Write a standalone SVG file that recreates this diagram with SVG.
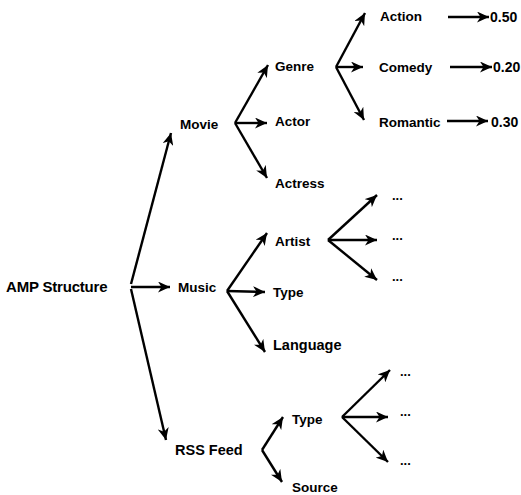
<svg xmlns="http://www.w3.org/2000/svg" width="521" height="495" viewBox="0 0 521 495">
<defs>
<marker id="ah" markerUnits="userSpaceOnUse" markerWidth="13" markerHeight="11" refX="12" refY="5.5" orient="auto">
<path d="M0,0 L12,5.5 L0,11 L3.5,5.5 Z" fill="#000"/>
</marker>
<style>
text{font-family:"Liberation Sans",Arial,sans-serif;font-weight:bold;font-size:13.5px;fill:#000}
.big{font-size:15px;letter-spacing:-0.2px}
.mid{font-size:14.5px}
.val{font-size:14px}
.dots{font-size:13px}
#connectors line{stroke:#000;stroke-width:2.4;fill:none;marker-end:url(#ah)}
</style>
</defs>
<rect width="521" height="495" fill="#fff"/>
<g id="connectors">
<line x1="131" y1="284" x2="171" y2="133"/>
<line x1="131" y1="287" x2="170" y2="287"/>
<line x1="131" y1="289" x2="166" y2="440"/>
<line x1="235" y1="123" x2="268" y2="65"/>
<line x1="235" y1="123" x2="267" y2="123"/>
<line x1="235" y1="123" x2="267" y2="178"/>
<line x1="336" y1="67" x2="365" y2="13"/>
<line x1="336" y1="67" x2="363" y2="67"/>
<line x1="336" y1="67" x2="364" y2="120"/>
<line x1="448" y1="17" x2="489" y2="17"/>
<line x1="450" y1="67" x2="492" y2="67"/>
<line x1="447" y1="121" x2="488" y2="121"/>
<line x1="227" y1="291" x2="267" y2="233"/>
<line x1="227" y1="291" x2="265" y2="292"/>
<line x1="227" y1="291" x2="265" y2="352"/>
<line x1="328" y1="240" x2="377" y2="195"/>
<line x1="328" y1="240" x2="377" y2="240"/>
<line x1="328" y1="240" x2="377" y2="280"/>
<line x1="262" y1="450" x2="283" y2="417"/>
<line x1="262" y1="450" x2="282" y2="482"/>
<line x1="342" y1="417" x2="390" y2="370"/>
<line x1="342" y1="417" x2="388" y2="417"/>
<line x1="342" y1="417" x2="388" y2="462"/>
</g>
<g id="amp"><text class="big" x="6" y="292">AMP Structure</text></g>
<g id="movie"><text x="180" y="129">Movie</text></g>
<g id="music"><text x="178" y="292">Music</text></g>
<g id="rss"><text class="mid" x="175" y="455">RSS Feed</text></g>
<g id="genre"><text x="275" y="71">Genre</text></g>
<g id="actor"><text x="275" y="126">Actor</text></g>
<g id="actress"><text x="275" y="188">Actress</text></g>
<g id="action"><text x="380" y="21">Action</text></g>
<g id="comedy"><text x="379" y="72">Comedy</text></g>
<g id="romantic"><text x="379" y="127">Romantic</text></g>
<g id="v050"><text class="val" x="490" y="22">0.50</text></g>
<g id="v020"><text class="val" x="493" y="72">0.20</text></g>
<g id="v030"><text class="val" x="491" y="127">0.30</text></g>
<g id="artist"><text x="275" y="246">Artist</text></g>
<g id="mtype"><text x="273" y="297">Type</text></g>
<g id="language"><text class="mid" x="273" y="350">Language</text></g>
<g id="a1"><text class="dots" x="392" y="200">...</text></g>
<g id="a2"><text class="dots" x="392" y="240">...</text></g>
<g id="a3"><text class="dots" x="392" y="281">...</text></g>
<g id="rtype"><text x="292" y="424">Type</text></g>
<g id="source"><text x="292" y="492">Source</text></g>
<g id="r1"><text class="dots" x="400" y="376">...</text></g>
<g id="r2"><text class="dots" x="400" y="416">...</text></g>
<g id="r3"><text class="dots" x="400" y="465">...</text></g>
</svg>
